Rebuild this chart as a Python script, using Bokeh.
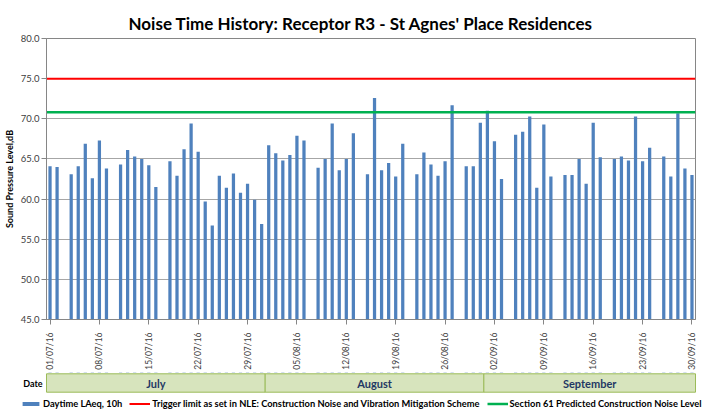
import math
import pandas as pd
from bokeh.plotting import figure
from bokeh.layouts import column
from bokeh.models import (Legend, LegendItem, FixedTicker, ColumnDataSource, Range1d,
                          PrintfTickFormatter)
from bokeh.core.properties import value
from bokeh.embed import file_html
from bokeh.resources import INLINE

# ---------------- data ----------------
TITLE = "Noise Time History: Receptor R3 - St Agnes' Place Residences"
Y_LABEL = "Sound Pressure Level,dB"
DATE_AXIS_LABEL = "Date"
DATES = list(pd.date_range("2016-07-01", "2016-09-30", freq="D"))
LAEQ = [
    64.1, 64.0, None, 63.1, 64.1, 66.9, 62.6, 67.3, 63.8, None,   # 01-10 Jul
    64.3, 66.1, 65.3, 65.0, 64.2, 61.5, None, 64.7, 62.9, 66.2,   # 11-20 Jul
    69.4, 65.9, 59.7, 56.7, 62.9, 61.4, 63.2, 60.8, 61.9, 59.9,   # 21-30 Jul
    56.9,                                                         # 31 Jul
    66.7, 65.7, 64.8, 65.5, 67.9, 67.3, None, 63.9, 65.0, 69.4,   # 01-10 Aug
    63.6, 65.0, 68.2, None, 63.1, 72.6, 63.6, 64.5, 62.8, 66.9,   # 11-20 Aug
    None, 63.1, 65.8, 64.3, 62.9, 64.7, 71.7, None, 64.1, 64.1,   # 21-30 Aug
    69.5,                                                         # 31 Aug
    71.0, 67.2, 62.5, None, 68.0, 68.4, 70.3, 61.4, 69.3, 62.8,   # 01-10 Sep
    None, 63.0, 63.0, 65.0, 61.9, 69.5, 65.2, None, 65.0, 65.3,   # 11-20 Sep
    64.8, 70.3, 64.7, 66.4, None, 65.3, 62.8, 70.7, 63.8, 63.0,   # 21-30 Sep
]
TRIGGER_LIMIT = 75.0
S61_LEVEL = 70.8
SERIES_NAMES = ["Daytime LAeq, 10h",
                "Trigger limit as set in NLE: Construction Noise and Vibration Mitigation Scheme",
                "Section 61 Predicted Construction Noise Level"]
MONTHS = ["July", "August", "September"]
Y_MIN, Y_MAX, Y_STEP = 45.0, 80.0, 5.0
TICK_EVERY_DAYS = 7

# ---------------- style / layout ----------------
W = 706
H1, H2 = 372, 45
FL, FR, FT, FB = 46, 695, 38, 320          # main frame edges (px)
FONT = "Lato"
BAR_COLOR = "#4f81bd"
TRIG_COLOR = "#ff0000"
S61_COLOR = "#00b050"
AXIS_COLOR = "#868686"
X0, X1 = -0.5, len(DATES) - 0.5

idx = [i for i, v in enumerate(LAEQ) if v is not None]
src = ColumnDataSource(dict(x=idx, top=[LAEQ[i] for i in idx]))

# ---------------- main chart ----------------
p = figure(width=W, height=H1, output_backend="svg", toolbar_location=None,
           x_range=Range1d(X0, X1), y_range=Range1d(Y_MIN, Y_MAX),
           min_border_left=FL, min_border_right=W - FR,
           min_border_top=FT, min_border_bottom=H1 - FB)
p.outline_line_color = AXIS_COLOR
p.border_fill_color = "white"

p.title.text = TITLE
p.title.align = "left"
p.title.offset = 82
p.title.standoff = 9
p.title.text_font = FONT
p.title.text_font_size = "17px"
p.title.text_font_style = "bold"
p.title.text_color = "#000000"

p.vbar(x="x", top="top", bottom=Y_MIN, width=0.46, source=src,
       fill_color=BAR_COLOR, line_color=None)
p.line(x=[X0, X1], y=[TRIGGER_LIMIT, TRIGGER_LIMIT], line_color=TRIG_COLOR, line_width=2)
p.line(x=[X0, X1], y=[S61_LEVEL, S61_LEVEL], line_color=S61_COLOR, line_width=2.5)

yticks = [Y_MIN + k * Y_STEP for k in range(int((Y_MAX - Y_MIN) / Y_STEP) + 1)]
p.yaxis.ticker = FixedTicker(ticks=yticks)
p.yaxis.formatter = PrintfTickFormatter(format="%.1f")
p.yaxis.major_label_text_font = FONT
p.yaxis.major_label_text_font_size = "9.5px"
p.yaxis.major_label_text_color = "#404040"
p.yaxis.major_tick_out = 5
p.yaxis.major_tick_in = 0
p.yaxis.minor_tick_out = 0
p.yaxis.minor_tick_in = 0
p.yaxis.major_label_standoff = 2
p.yaxis.axis_line_color = AXIS_COLOR
p.yaxis.major_tick_line_color = AXIS_COLOR
p.yaxis.axis_label = Y_LABEL
p.yaxis.axis_label_standoff = 3
p.yaxis.axis_label_text_font = FONT
p.yaxis.axis_label_text_font_size = "9px"
p.yaxis.axis_label_text_font_style = "bold"
p.yaxis.axis_label_text_color = "#000000"

xticks = list(range(0, len(DATES), TICK_EVERY_DAYS))
p.xaxis.ticker = FixedTicker(ticks=xticks)
p.xaxis.major_label_overrides = {i: DATES[i].strftime("%d/%m/%y") for i in xticks}
p.xaxis.major_label_orientation = math.pi / 2
p.xaxis.major_label_text_font = FONT
p.xaxis.major_label_text_font_size = "8.5px"
p.xaxis.major_label_text_color = "#404040"
p.xaxis.major_tick_out = 5
p.xaxis.major_tick_in = 0
p.xaxis.minor_tick_out = 0
p.xaxis.minor_tick_in = 0
p.xaxis.major_label_standoff = 8
p.xaxis.axis_line_color = AXIS_COLOR
p.xaxis.major_tick_line_color = AXIS_COLOR

p.xgrid.visible = False
p.ygrid.ticker = FixedTicker(ticks=yticks)
p.ygrid.grid_line_color = "#a6a6a6"

# ---------------- month band + legend strip (frame = whole strip) ----------------
# strip y coordinate = -(pixels from the strip's top)
k = (FR - FL) / (X1 - X0)                      # px per day, same as the main chart
bx0 = X0 - FL / k
bx1 = X1 + (W - FR) / k
b = figure(width=W, height=H2, output_backend="svg", toolbar_location=None,
           x_range=Range1d(bx0, bx1), y_range=Range1d(-H2, 0),
           min_border_left=0, min_border_right=0, min_border_top=0, min_border_bottom=0)
b.axis.visible = False
b.grid.visible = False
b.outline_line_color = None
b.border_fill_color = "white"

month_nums = [d.month for d in DATES]
uniq = sorted(set(month_nums))
firsts = [month_nums.index(m) for m in uniq]
lasts = [len(month_nums) - 1 - month_nums[::-1].index(m) for m in uniq]
BAND_TOP, BAND_BOT = -(373.3 - H1), -(391.7 - H1)
msrc = ColumnDataSource(dict(left=[f - 0.5 for f in firsts], right=[l + 0.5 for l in lasts],
                             cx=[(f + l) / 2 for f, l in zip(firsts, lasts)], name=MONTHS))
b.quad(left="left", right="right", top=BAND_TOP, bottom=BAND_BOT, source=msrc,
       fill_color="#d7e4bd", line_color="#9bbb59", line_width=1)
b.text(x="cx", y=(BAND_TOP + BAND_BOT) / 2, text="name", source=msrc,
       text_align="center", text_baseline="middle", text_font=value(FONT),
       text_font_size="11px", text_font_style="bold", text_color="#1f3864")
b.text(x=[X0 - (FL - 32.5) / k], y=[(BAND_TOP + BAND_BOT) / 2], text=[DATE_AXIS_LABEL],
       text_align="center", text_baseline="middle", text_font=value(FONT),
       text_font_size="9px", text_font_style="bold", text_color="#000000")

# legend swatches: the same series, lying outside this strip's visible y-range
lb = b.vbar(x="x", top="top", bottom=Y_MIN, width=0.46, source=src,
            fill_color=BAR_COLOR, line_color=None)
lt = b.line(x=[X0, X1], y=[TRIGGER_LIMIT, TRIGGER_LIMIT], line_color=TRIG_COLOR, line_width=2)
ls = b.line(x=[X0, X1], y=[S61_LEVEL, S61_LEVEL], line_color=S61_COLOR, line_width=2.5)
legend = Legend(items=[LegendItem(label=SERIES_NAMES[0], renderers=[lb]),
                       LegendItem(label=SERIES_NAMES[1], renderers=[lt]),
                       LegendItem(label=SERIES_NAMES[2], renderers=[ls])],
                orientation="horizontal", location=(20, 8),
                padding=0, margin=0, spacing=7, label_standoff=2,
                glyph_width=21, glyph_height=5, label_height=9,
                label_text_font=FONT, label_text_font_size="9.3px",
                label_text_font_style="bold", label_text_color="#000000",
                background_fill_alpha=0, border_line_alpha=0)
b.add_layout(legend, "center")

open("out.html", "w").write(file_html(column(p, column(b), spacing=0), INLINE))
